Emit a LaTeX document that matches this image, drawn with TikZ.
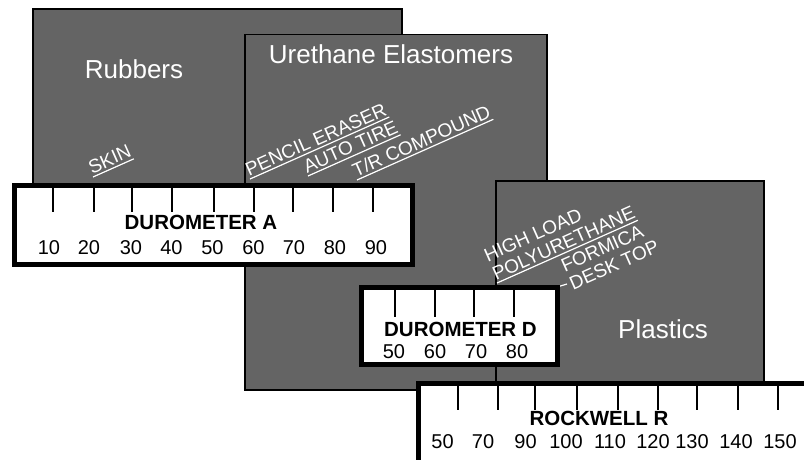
\documentclass[tikz,border=0pt]{standalone}
\usepackage{fontspec}
\setmainfont{Liberation Sans}
\usetikzlibrary{calc}
\definecolor{slab}{RGB}{100,100,100}
\tikzset{
	material/.style={draw=black, line width=1.5pt, fill=slab},
	scalebar/.style={draw=black, line width=5pt, fill=white},
	tickmark/.style={line width=2pt},
	matname/.style={text=white, font=\fontsize{26}{30}\selectfont, anchor=base, inner sep=0pt},
	scalename/.style={font=\bfseries\fontsize{20.5}{24}\selectfont, anchor=base, inner sep=0pt},
	scalenum/.style={font=\fontsize{20}{24}\selectfont, anchor=base, inner sep=0pt},
	usecase/.style={text=white, font=\fontsize{19}{20}\selectfont, rotate=24, anchor=south west, inner xsep=0pt, inner ysep=2.5pt, align=left},
	uline/.style={draw=white, line width=1.2pt}
}

\begin{document}
\begin{tikzpicture}[x=1pt, y=-1pt]
			%%%%% START %%%%%
			\useasboundingbox (0,0) rectangle (804,459);
			
			\draw[material] (33,9) rectangle (402,200);
			\draw[material] (245,34.5) rectangle (547,390);
			\draw[material] (496,181) rectangle (764,383);
			
			\node[matname] (rubbers) at (134,78) {Rubbers};
			\node[matname] (urethane) at (391,63) {Urethane Elastomers};
			\node[matname] (plastics) at (663,338) {Plastics};
			
			\node[usecase] (skin) at (93,177) {SKIN};
			\draw[uline] (skin.south west) -- (skin.south east);
			\node[usecase] (eraser) at (250,179) {PENCIL ERASER};
			\draw[uline] (eraser.south west) -- (eraser.south east);
			\node[usecase] (tire) at (308,176) {AUTO TIRE};
			\draw[uline] (tire.south west) -- (tire.south east);
			\node[usecase] (compound) at (357,180) {T/R COMPOUND};
			\draw[uline] (compound.south west) -- (compound.south east);
			\node[usecase] (polyurethane) at (497,283) {HIGH LOAD\\POLYURETHANE};
			\draw[uline] (polyurethane.south west) -- (polyurethane.south east);
			\node[usecase] (formica) at (574,293) {FORMICA\\DESK TOP};
			\coordinate (dcorner) at (557,287);
			\draw[uline] (dcorner) -- ($(formica.south west)+(-7,-9)$);
			
			%%%%% DUROMETER A %%%%%
			\draw[scalebar] (14.5,185) rectangle (412,264);
			\draw[tickmark] (53,187) -- (53,212);
			\draw[tickmark] (94,187) -- (94,212);
			\draw[tickmark] (132,187) -- (132,212);
			\draw[tickmark] (172,187) -- (172,212);
			\draw[tickmark] (214,187) -- (214,212);
			\draw[tickmark] (254,187) -- (254,212);
			\draw[tickmark] (293,187) -- (293,212);
			\draw[tickmark] (333,187) -- (333,212);
			\draw[tickmark] (373,187) -- (373,212);
			\node[scalename] (durA) at (201,229.5) {DUROMETER A};
			\node[scalenum] (a10) at (49,254) {10};
			\node[scalenum] (a20) at (89,254) {20};
			\node[scalenum] (a30) at (131,254) {30};
			\node[scalenum] (a40) at (171.5,254) {40};
			\node[scalenum] (a50) at (212.5,254) {50};
			\node[scalenum] (a60) at (253.5,254) {60};
			\node[scalenum] (a70) at (294,254) {70};
			\node[scalenum] (a80) at (335,254) {80};
			\node[scalenum] (a90) at (376,254) {90};
			
			%%%%% DUROMETER D %%%%%
			\draw[scalebar] (361,287) rectangle (557,364.5);
			\draw[tickmark] (395,289) -- (395,317);
			\draw[tickmark] (435,289) -- (435,317);
			\draw[tickmark] (474,289) -- (474,317);
			\draw[tickmark] (514,289) -- (514,317);
			\node[scalename] (durD) at (460.5,336.5) {DUROMETER D};
			\node[scalenum] (d50) at (394,358) {50};
			\node[scalenum] (d60) at (435,358) {60};
			\node[scalenum] (d70) at (476,358) {70};
			\node[scalenum] (d80) at (517,358) {80};
			
			%%%%% ROCKWELL R %%%%%
			\fill[white] (418.5,383) rectangle (820,480);
			\draw[line width=5pt] (418.5,480) -- (418.5,383) -- (820,383);
			\draw[tickmark] (458,385) -- (458,410);
			\draw[tickmark] (498,385) -- (498,410);
			\draw[tickmark] (535,385) -- (535,410);
			\draw[tickmark] (577,385) -- (577,410);
			\draw[tickmark] (618,385) -- (618,410);
			\draw[tickmark] (658,385) -- (658,410);
			\draw[tickmark] (697,385) -- (697,410);
			\draw[tickmark] (738,385) -- (738,410);
			\draw[tickmark] (778,385) -- (778,410);
			\node[scalename] (rockR) at (599,425) {ROCKWELL R};
			\node[scalenum] (r50) at (442.5,448) {50};
			\node[scalenum] (r70) at (483,448) {70};
			\node[scalenum] (r90) at (525.5,448) {90};
			\node[scalenum] (r100) at (566,448) {100};
			\node[scalenum] (r110) at (610,448) {110};
			\node[scalenum] (r120) at (653,448) {120};
			\node[scalenum] (r130) at (692,448) {130};
			\node[scalenum] (r140) at (736,448) {140};
			\node[scalenum] (r150) at (780,448) {150};
			
			%%%%% END %%%%%
\end{tikzpicture}
\end{document}
